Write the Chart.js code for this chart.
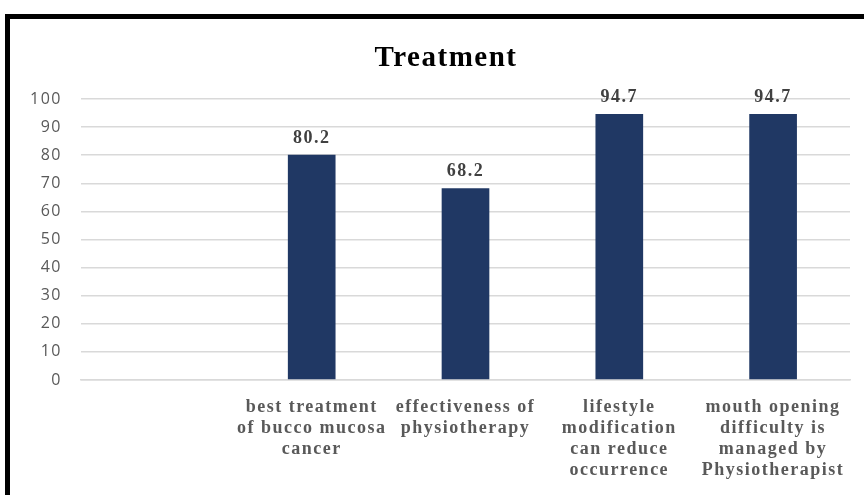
<!DOCTYPE html>
<html>
<head>
<meta charset="utf-8">
<script src="https://cdn.jsdelivr.net/npm/chart.js@4/dist/chart.umd.min.js"></script>
<style>
    body { margin: 0; background: #fff; }
    #frame {
        position: absolute; left: 5px; top: 14px; width: 859px; height: 481px;
        border-top: 5px solid #000; border-left: 5px solid #000;
    }
    #wrap { position: absolute; left: 0; top: 0; width: 854px; height: 476px; }
</style>
</head>
<body>
<div id="frame"><div id="wrap"><canvas id="treatmentChart"></canvas></div></div>
<script>
// Datos del gráfico
const categories = [
    '',
    ['best treatment', 'of bucco mucosa', 'cancer'],
    ['effectiveness of', 'physiotherapy'],
    ['lifestyle', 'modification', 'can reduce', 'occurrence'],
    ['mouth opening', 'difficulty is', 'managed by', 'Physiotherapist']
];
const values = [null, 80.2, 68.2, 94.7, 94.7];
const yTicks = [0, 10, 20, 30, 40, 50, 60, 70, 80, 90, 100];

// Espaciado de letras y título un poco desplazado a la derecha
const spacingPlugin = {
    id: 'spacing',
    beforeUpdate(chart) { chart.ctx.letterSpacing = '1.5px'; },
    afterLayout(chart) {
        if (chart.titleBlock) chart.titleBlock.left += 22;
    },
    beforeDraw(chart) { chart.ctx.letterSpacing = '1.5px'; }
};

// Etiquetas de valor encima de cada barra
const valueLabels = {
    id: 'valueLabels',
    afterDatasetsDraw(chart) {
        const ctx = chart.ctx;
        const meta = chart.getDatasetMeta(0);
        ctx.save();
        ctx.letterSpacing = '1.5px';
        ctx.font = 'bold 18px "Liberation Serif", "Times New Roman", serif';
        ctx.fillStyle = '#404040';
        ctx.textAlign = 'center';
        ctx.textBaseline = 'alphabetic';
        meta.data.forEach((bar, i) => {
            if (values[i] == null) return;
            ctx.fillText(values[i].toFixed(1), bar.x, bar.y - 12);
        });
        ctx.restore();
    }
};

const ctx = document.getElementById('treatmentChart').getContext('2d');
new Chart(ctx, {
    type: 'bar',
    data: {
        labels: categories,
        datasets: [{
            data: values,
            backgroundColor: '#203864',
            barPercentage: 0.31,
            categoryPercentage: 1
        }]
    },
    options: {
        responsive: true,
        maintainAspectRatio: false,
        animation: false,
        layout: { padding: { left: 10, right: 14, top: 0, bottom: 0 } },
        plugins: {
            legend: { display: false },
            tooltip: { enabled: false },
            title: {
                display: true,
                text: 'Treatment',
                color: '#000',
                font: { family: '"Liberation Serif", "Times New Roman", serif', size: 29, weight: 'bold' },
                padding: { top: 22, bottom: 23.2 }
            }
        },
        scales: {
            x: {
                grid: { display: false, drawTicks: false },
                border: { display: true, color: '#d9d9d9', width: 1.5 },
                ticks: {
                    color: '#595959',
                    font: { family: '"Liberation Serif", "Times New Roman", serif', size: 18, weight: 'bold', lineHeight: 1.17 },
                    padding: 17,
                    maxRotation: 0,
                    autoSkip: false
                },
                afterFit(scale) { scale.height = 115; }
            },
            y: {
                min: 0,
                max: 100,
                afterBuildTicks(scale) { scale.ticks = yTicks.map(v => ({ value: v })); },
                grid: { color: '#d9d9d9', lineWidth: 1.5, drawTicks: false },
                border: { display: false },
                ticks: {
                    color: '#595959',
                    font: { family: '"Open Sans", "Noto Sans", sans-serif', size: 16 },
                    padding: 19
                },
                afterFit(scale) { scale.width = 61; }
            }
        }
    },
    plugins: [spacingPlugin, valueLabels]
});
</script>
</body>
</html>
